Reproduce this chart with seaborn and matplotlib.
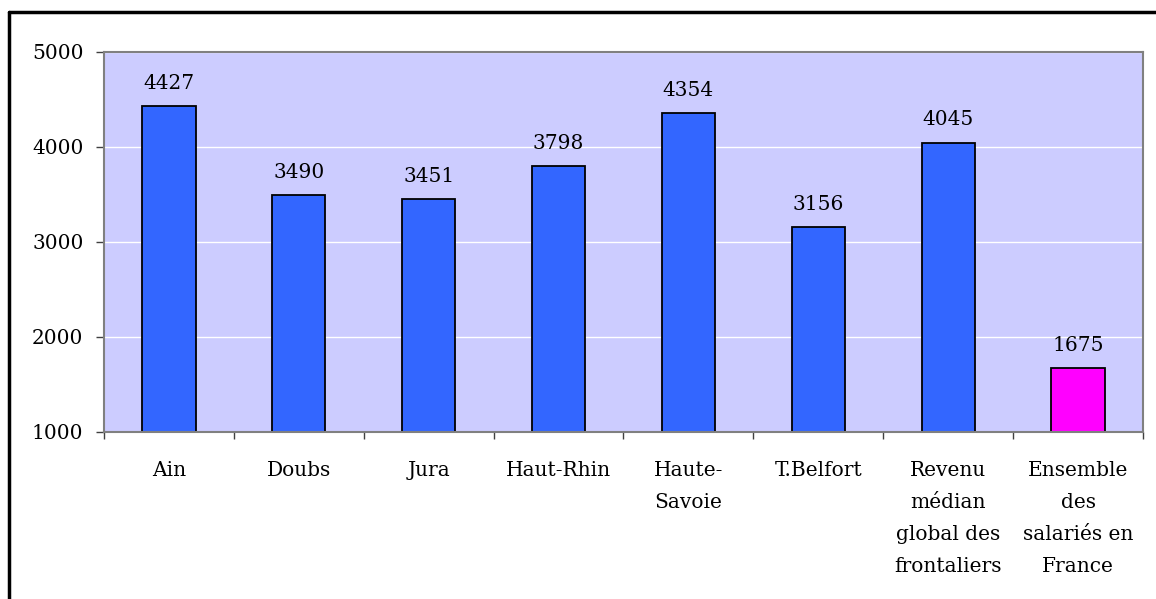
import matplotlib
matplotlib.use('Agg')
import matplotlib.pyplot as plt
import seaborn as sns
import pandas as pd

categories = ['Ain', 'Doubs', 'Jura', 'Haut-Rhin', 'Haute-\nSavoie', 'T.Belfort',
              'Revenu\nmédian\nglobal des\nfrontaliers', 'Ensemble\ndes\nsalariés en\nFrance']
values = [4427, 3490, 3451, 3798, 4354, 3156, 4045, 1675]
groups = ['front'] * 7 + ['france']
yticks = [1000, 2000, 3000, 4000, 5000]

sns.set_style('white')
plt.rcParams['font.family'] = ['DejaVu Serif']
plt.rcParams['text.color'] = 'black'
plt.rcParams['xtick.color'] = 'black'
plt.rcParams['ytick.color'] = 'black'

df = pd.DataFrame({'cat': categories, 'val': values, 'grp': groups})

fig = plt.figure(figsize=(11.56, 5.99), dpi=100)
ax = fig.add_axes([0.090, 0.2788, 0.8987, 0.6344])
ax.set_facecolor('#CCCCFF')

sns.barplot(data=df, x='cat', y='val', hue='grp', dodge=False, saturation=1,
            palette={'front': '#3366FF', 'france': '#FF00FF'},
            edgecolor='black', linewidth=1.3, width=0.41, legend=False, ax=ax)

ax.set_ylim(1000, 5000)
ax.set_xlim(-0.5, len(categories) - 0.5)
ax.set_yticks(yticks)
ax.yaxis.grid(True, color='white', linewidth=1)
ax.set_axisbelow(True)
ax.set_xlabel('')
ax.set_ylabel('')

for i, v in enumerate(values):
    ax.text(i, v + 140, str(v), ha='center', va='bottom', fontsize=14.5)

for s in ax.spines.values():
    s.set_color('#808080')
    s.set_linewidth(1.5)

ax.tick_params(axis='y', length=5.8, width=1, color='#404040', labelsize=14.5, left=True, pad=9)
ax.set_xticks(range(len(categories)))
ax.set_xticklabels(categories, fontsize=14.5, linespacing=1.86)
ax.tick_params(axis='x', length=0, pad=21)
ax.set_xticks([i - 0.5 for i in range(len(categories) + 1)], minor=True)
ax.tick_params(axis='x', which='minor', length=5.2, width=1, color='#404040', bottom=True)
for lbl in ax.get_xticklabels():
    lbl.set_verticalalignment('top')

# outer chart frame (top and left edges visible)
fig.add_artist(plt.Line2D([0.0078, 1.0], [0.98, 0.98], color='black', linewidth=2.5, transform=fig.transFigure))
fig.add_artist(plt.Line2D([0.0078, 0.0078], [0.0, 0.98], color='black', linewidth=2.5, transform=fig.transFigure))

fig.savefig('out.png', dpi=100)
